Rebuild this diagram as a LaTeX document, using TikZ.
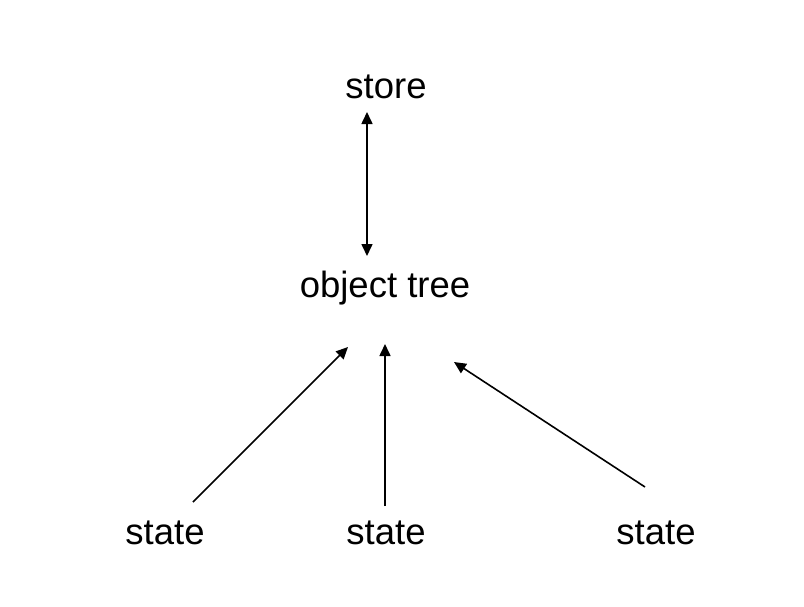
\documentclass[tikz,border=0pt]{standalone}
\usepackage{fontspec}
\setmainfont{Liberation Sans}
\usetikzlibrary{arrows.meta}
\begin{document}
\begin{tikzpicture}[x=1pt,y=-1pt,
  lbl/.style={font=\fontsize{36.5}{40}\selectfont, anchor=base, inner sep=0pt},
  conn/.style={line width=1.6pt, -{Triangle[length=12pt,width=11pt]}},
  biconn/.style={line width=1.6pt, {Triangle[length=12pt,width=11pt]}-{Triangle[length=12pt,width=11pt]}}]
\useasboundingbox (0,0) rectangle (804,606);
\node[lbl] (store) at (386,98) {store};
\node[lbl] (tree) at (385,297) {object tree};
\node[lbl] (s1) at (165,544) {state};
\node[lbl] (s2) at (386,544) {state};
\node[lbl] (s3) at (656,544) {state};
\coordinate (a1) at (367,112);
\coordinate (a2) at (367,256);
\coordinate (l1) at (193,502);
\coordinate (l2) at (348,347);
\coordinate (m1) at (385,506);
\coordinate (m2) at (385,344);
\coordinate (r1) at (645,487);
\coordinate (r2) at (454,362);
\draw[biconn] (a1) -- (a2);
\draw[conn] (l1) -- (l2);
\draw[conn] (m1) -- (m2);
\draw[conn] (r1) -- (r2);
\end{tikzpicture}
\end{document}
